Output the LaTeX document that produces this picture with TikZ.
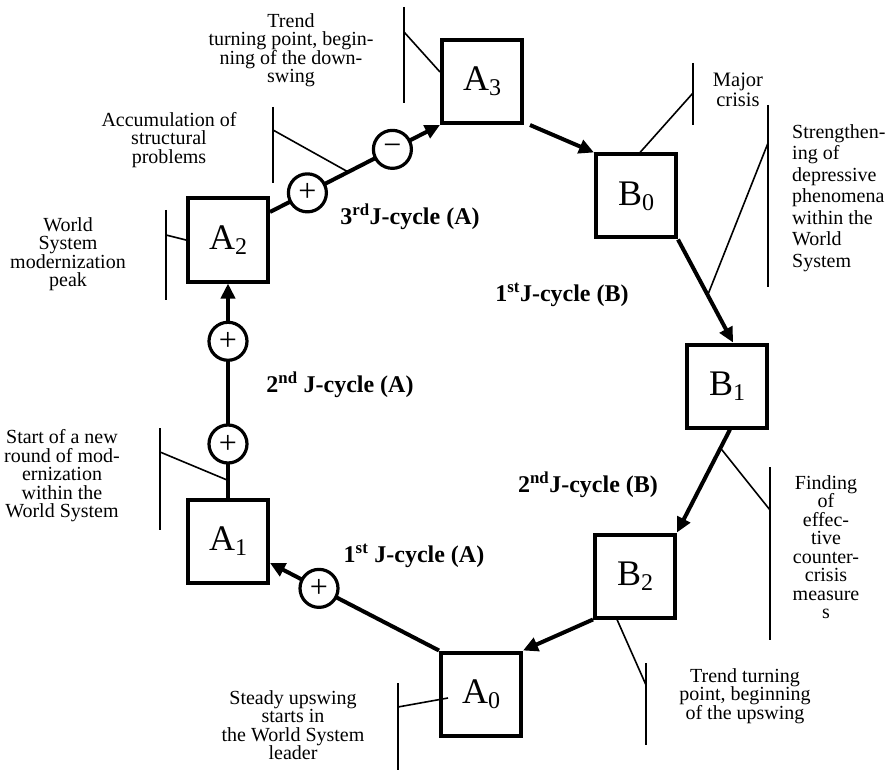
\documentclass[tikz,border=0pt]{standalone}
\usepackage{fontspec}
\setmainfont{Liberation Serif}
\usetikzlibrary{arrows.meta,calc}
% stage label: capital letter with a lowered index digit
\newcommand\stagename[2]{#1\raisebox{-5pt}{\fontsize{24}{24}\selectfont#2}}
\begin{document}
\begin{tikzpicture}[x=1pt,y=-1pt,
  stage/.style={draw, line width=4pt, minimum width=80pt, minimum height=83pt,
    inner sep=0pt, font=\fontsize{36}{36}\selectfont},
  sign/.style={circle, draw, fill=white, line width=3.2pt, minimum size=38pt,
    inner sep=0pt, font=\fontsize{32}{32}\selectfont},
  flow/.style={line width=4pt, -{Triangle[length=15pt,width=14pt]}},
  note/.style={align=center, inner sep=0pt, font=\fontsize{20}{18.5}\selectfont},
  lead/.style={line width=1.6pt},
  jlabel/.style={inner sep=0pt, font=\bfseries\fontsize{24}{24}\selectfont}
]
\useasboundingbox (0,0) rectangle (889,770);

% stages of the cycle
\node[stage] (A3) at (482,81.5) {\stagename{A}{3}};
\node[stage] (B0) at (636,196) {\stagename{B}{0}};
\node[stage] (A2) at (228,240) {\stagename{A}{2}};
\node[stage] (B1) at (727,386) {\stagename{B}{1}};
\node[stage] (B2) at (635,576) {\stagename{B}{2}};
\node[stage] (A1) at (228,541) {\stagename{A}{1}};
\node[stage] (A0) at (481,694) {\stagename{A}{0}};

% transitions
\draw[flow] (A0.north west) -- node[sign,pos=0.71]{+} ([yshift=-22pt]A1.east);
\draw[flow] (A1.north) -- coordinate[pos=0.08] (startpt)
  node[sign,pos=0.25]{+} node[sign,pos=0.73]{+} (A2.south);
\draw[flow] ([yshift=28pt]A2.east) -- coordinate[pos=0.46] (accpt)
  node[sign,pos=0.22]{+} node[sign,pos=0.72]{−} (A3.south west);
\draw[flow] ([xshift=6pt]A3.south east) -- (B0.north west);
\draw[flow] (B0.south east) -- coordinate[pos=0.54] (strpt) ([xshift=6pt]B1.north);
\draw[flow] ([xshift=3pt]B1.south) -- coordinate[pos=0.18] (findpt) (B2.north east);
\draw[flow] (B2.south west) -- (A0.north east);

% phase labels
\node[jlabel] (j3a) at (410,217) {3\textsuperscript{rd}J-cycle (A)};
\node[jlabel] (j1b) at (562,295) {1\textsuperscript{st}J-cycle (B)};
\node[jlabel] (j2a) at (340,385) {2\textsuperscript{nd} J-cycle (A)};
\node[jlabel] (j2b) at (588,485) {2\textsuperscript{nd}J-cycle (B)};
\node[jlabel] (j1a) at (414,556) {1\textsuperscript{st} J-cycle (A)};

% comments with their brackets
\node[note] (nA3) at (291,50) {Trend\\turning point, begin-\\ning of the down-\\swing};
\draw[lead] (404,7) -- (404,103);
\coordinate (kA3) at (404,32);
\draw[lead] (kA3) -- ([yshift=9.5pt]A3.west);

\node[note] (nAcc) at (169,140) {Accumulation of\\structural\\problems};
\draw[lead] (273,107) -- (273,183);
\coordinate (kAcc) at (273,130);
\draw[lead] (kAcc) -- (accpt);

\node[note] (nA2) at (68,254) {World\\System\\modernization\\peak};
\draw[lead] (166,210) -- (166,300);
\coordinate (kA2) at (166,235);
\draw[lead] (kA2) -- (A2.west);

\node[note] (nStart) at (62,476) {Start of a new\\round of mod-\\ernization\\within the\\World System};
\draw[lead] (160,428) -- (160,530);
\coordinate (kStart) at (160,452);
\draw[lead] (kStart) -- (startpt);

\node[note] (nA0) at (293,725) {Steady upswing\\starts in\\the World System\\leader};
\draw[lead] (398,683) -- (398,770);
\coordinate (kA0) at (398,707);
\draw[lead] (kA0) -- ([xshift=9pt,yshift=-4pt]A0.west);

\node[note] (nB2) at (745,696) {Trend turning\\point, beginning\\of the upswing};
\draw[lead] (646,663) -- (646,745);
\coordinate (kB2) at (646,685);
\draw[lead] ([xshift=-18pt]B2.south) -- (kB2);

\node[note] (nFind) at (826,547) {Finding\\of\\effec-\\tive\\counter-\\crisis\\measure\\s};
\draw[lead] (770,467) -- (770,640);
\coordinate (kFind) at (770,510);
\draw[lead] (findpt) -- (kFind);

\node[note, align=left, anchor=west, font=\fontsize{20}{21.5}\selectfont] (nStr) at (792,198)
  {Strengthen-\\ing of\\depressive\\phenomena\\within the\\World\\System};
\draw[lead] (768,105) -- (768,287);
\coordinate (kStr) at (768,143);
\draw[lead] (strpt) -- (kStr);

\node[note, font=\fontsize{20.5}{20}\selectfont] (nB0) at (738,90) {Major\\crisis};
\draw[lead] (693,63) -- (693,125);
\coordinate (kB0) at (693,93);
\draw[lead] ([xshift=4pt]B0.north) -- (kB0);
\end{tikzpicture}
\end{document}
